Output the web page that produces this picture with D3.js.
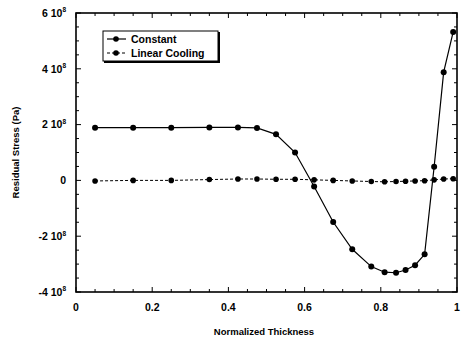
<!DOCTYPE html>
<html>
<head>
<meta charset="utf-8">
<script src="https://cdn.jsdelivr.net/npm/d3@7/dist/d3.min.js"></script>
<style>
  html, body { margin: 0; padding: 0; background: #fff; }
  svg { display: block; }
  text { font-family: "Liberation Sans", Arial, sans-serif; font-weight: bold; fill: #000; }
</style>
</head>
<body>
<svg id="chart" width="461" height="341"></svg>
<script>
// Normalized thickness positions of the computed points
const thickness = [0.05, 0.15, 0.25, 0.35, 0.425, 0.475, 0.525, 0.575, 0.625, 0.675,
                   0.725, 0.775, 0.81, 0.84, 0.865, 0.89, 0.915, 0.94, 0.965, 0.99];
// Residual stress, in units of 1e8 Pa
const constantStress = [1.89, 1.89, 1.89, 1.90, 1.90, 1.88, 1.65, 1.00, -0.22, -1.49,
                        -2.47, -3.09, -3.29, -3.31, -3.21, -3.04, -2.65, 0.49, 3.88, 5.32];
const linearStress = [-0.02, 0.00, 0.00, 0.03, 0.05, 0.05, 0.04, 0.04, 0.02, 0.00,
                      -0.02, -0.04, -0.05, -0.04, -0.03, -0.02, -0.01, 0.02, 0.05, 0.06];
const seriesNames = ["Constant", "Linear Cooling"];
const xTicks = [0, 0.2, 0.4, 0.6, 0.8, 1];
const xTickLabels = ["0", "0.2", "0.4", "0.6", "0.8", "1"];
const yTicks = [-4, -2, 0, 2, 4, 6];
const yTickMantissa = ["-4", "-2", "0", "2", "4", "6"];

const svg = d3.select("#chart");
const plotL = 76, plotR = 457, plotT = 13, plotB = 292;

const x = d3.scaleLinear().domain([0, 1]).range([plotL, plotR]);
const y = d3.scaleLinear().domain([-4, 6]).range([plotB, plotT]);

const xMinor = d3.range(0, 1.0001, 0.05);
const yMinor = d3.range(-4, 6.0001, 0.5);

// Frame
svg.append("rect")
  .attr("x", plotL).attr("y", plotT)
  .attr("width", plotR - plotL).attr("height", plotB - plotT)
  .attr("fill", "none").attr("stroke", "#000").attr("stroke-width", 1.6);

// Inward ticks on all four sides
const isMajorX = v => xTicks.some(t => Math.abs(t - v) < 1e-6);
const isMajorY = v => yTicks.some(t => Math.abs(t - v) < 1e-6);
const tickG = svg.append("g").attr("stroke", "#000").attr("stroke-width", 1);
xMinor.forEach(v => {
  const len = isMajorX(v) ? 5 : 3;
  tickG.append("line").attr("x1", x(v)).attr("x2", x(v)).attr("y1", plotB).attr("y2", plotB - len);
  tickG.append("line").attr("x1", x(v)).attr("x2", x(v)).attr("y1", plotT).attr("y2", plotT + len);
});
yMinor.forEach(v => {
  const len = isMajorY(v) ? 5 : 3;
  tickG.append("line").attr("x1", plotL).attr("x2", plotL + len).attr("y1", y(v)).attr("y2", y(v));
  tickG.append("line").attr("x1", plotR).attr("x2", plotR - len).attr("y1", y(v)).attr("y2", y(v));
});

// X tick labels
svg.append("g").selectAll("text").data(xTicks).join("text")
  .attr("x", d => x(d)).attr("y", 311)
  .attr("text-anchor", "middle").attr("font-size", 10.5)
  .text((d, i) => xTickLabels[i]);

// Y tick labels, written as "m 10^8"
const yl = svg.append("g").selectAll("text").data(yTicks).join("text")
  .attr("x", 66).attr("y", d => y(d) + 3.8)
  .attr("text-anchor", "end").attr("font-size", 10.5);
yl.each(function(d, i) {
  const t = d3.select(this);
  if (d === 0) { t.text("0"); return; }
  t.append("tspan").text(yTickMantissa[i] + " 10");
  t.append("tspan").attr("font-size", 6.5).attr("dy", -4.5).text("8");
});

// Axis titles
svg.append("text")
  .attr("x", 264).attr("y", 335).attr("text-anchor", "middle").attr("font-size", 9.5)
  .text("Normalized Thickness");
svg.append("text")
  .attr("transform", `translate(19,${(plotT + plotB) / 2}) rotate(-90)`)
  .attr("text-anchor", "middle").attr("font-size", 9.5)
  .text("Residual Stress (Pa)");

// Series
const line = d3.line().x(d => x(d[0])).y(d => y(d[1]));
const constPts = thickness.map((t, i) => [t, constantStress[i]]);
const linPts = thickness.map((t, i) => [t, linearStress[i]]);

svg.append("path").datum(linPts).attr("d", line)
  .attr("fill", "none").attr("stroke", "#000").attr("stroke-width", 1)
  .attr("stroke-dasharray", "3,2");
svg.append("path").datum(constPts).attr("d", line)
  .attr("fill", "none").attr("stroke", "#000").attr("stroke-width", 1.2);

svg.append("g").selectAll("circle").data(linPts).join("circle")
  .attr("cx", d => x(d[0])).attr("cy", d => y(d[1])).attr("r", 2.8).attr("fill", "#000");
svg.append("g").selectAll("circle").data(constPts).join("circle")
  .attr("cx", d => x(d[0])).attr("cy", d => y(d[1])).attr("r", 3).attr("fill", "#000");

// Legend
const lg = svg.append("g");
lg.append("rect").attr("x", 104).attr("y", 32).attr("width", 116).attr("height", 31)
  .attr("fill", "#000");
lg.append("rect").attr("x", 103).attr("y", 31).attr("width", 115).attr("height", 30)
  .attr("fill", "#fff").attr("stroke", "#000").attr("stroke-width", 1);
seriesNames.forEach((name, i) => {
  const ly = 39 + i * 14;
  lg.append("line").attr("x1", 107).attr("x2", 126).attr("y1", ly).attr("y2", ly)
    .attr("stroke", "#000").attr("stroke-width", i === 0 ? 1.2 : 1)
    .attr("stroke-dasharray", i === 0 ? null : "3,2");
  lg.append("circle").attr("cx", 116).attr("cy", ly).attr("r", 2.8).attr("fill", "#000");
  lg.append("text").attr("x", 131).attr("y", ly + 3.6).attr("font-size", 10.5).text(name);
});
</script>
</body>
</html>
